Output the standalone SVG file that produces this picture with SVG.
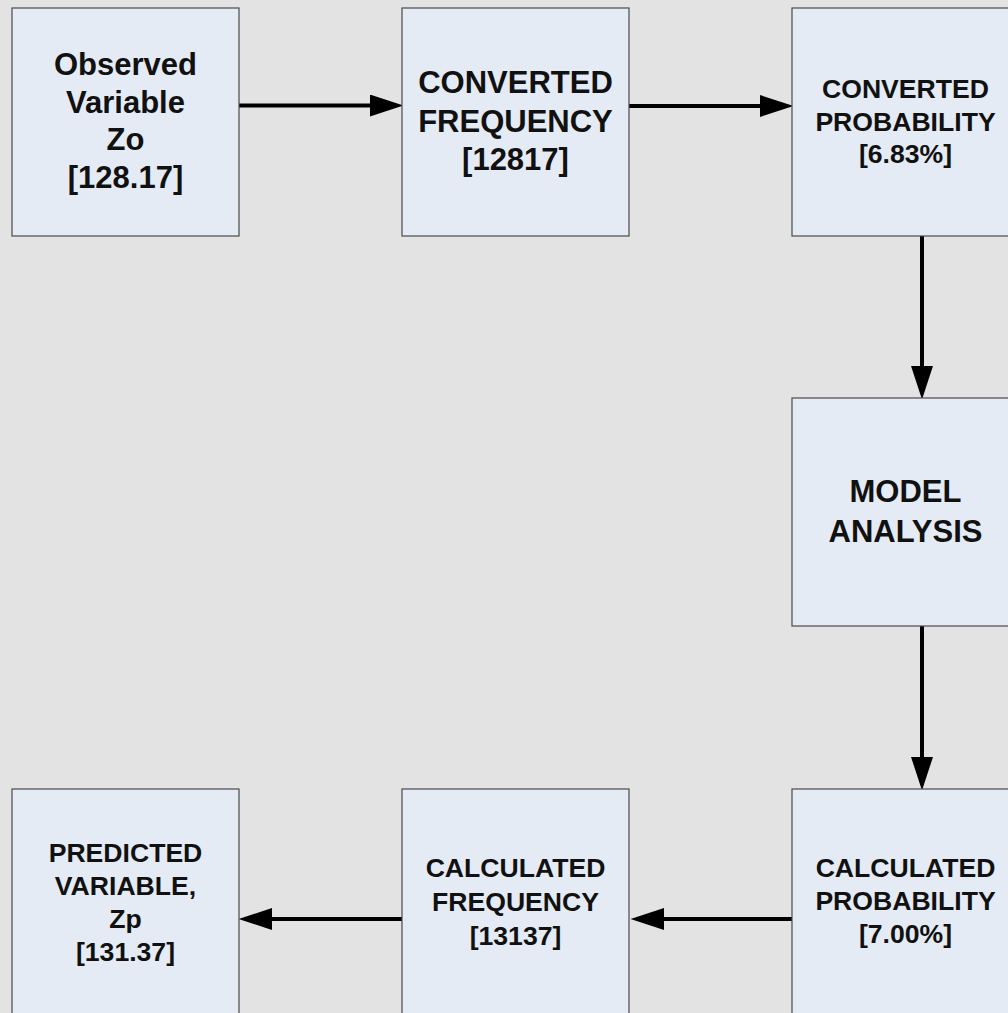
<svg xmlns="http://www.w3.org/2000/svg" width="1008" height="1013" viewBox="0 0 1008 1013">
  <style>
    .box { fill: #e5ebf5; stroke: #4a4a4a; stroke-width: 1.2; }
    .t { font-family: "Liberation Sans", Arial, sans-serif; font-weight: bold; fill: #111; text-anchor: middle; }
    .big { font-size: 31px; }
    .sm { font-size: 26.6px; }
    .conn { stroke: #000; stroke-width: 4; fill: none; marker-end: url(#ah); }
  </style>
  <defs>
    <marker id="ah" markerUnits="userSpaceOnUse" markerWidth="34" markerHeight="22" viewBox="0 0 32 21" refX="2" refY="10.5" orient="auto">
      <path d="M0,0 L32,10.5 L0,21 z" fill="#000"/>
    </marker>
  </defs>
  <rect x="0" y="0" width="1008" height="1013" fill="#e3e3e3"/>

  <g id="connectors">
    <path class="conn" d="M237,105.5 L372,105.5"/>
    <path class="conn" d="M628,106 L762,106"/>
    <path class="conn" d="M922,234 L922,368"/>
    <path class="conn" d="M922,624 L922,759"/>
    <path class="conn" d="M794,919 L662,919"/>
    <path class="conn" d="M403,919 L270,919"/>
  </g>

  <g id="observed-variable">
    <rect class="box" x="12" y="8" width="227" height="228"/>
    <text class="t big" x="125.5" y="75">Observed</text>
    <text class="t big" x="125.5" y="112.5">Variable</text>
    <text class="t big" x="125.5" y="150">Zo</text>
    <text class="t big" x="125.5" y="188">[128.17]</text>
  </g>

  <g id="converted-frequency">
    <rect class="box" x="402" y="8" width="227" height="228"/>
    <text class="t big" x="515.5" y="93">CONVERTED</text>
    <text class="t big" x="515.5" y="132">FREQUENCY</text>
    <text class="t big" x="515.5" y="170">[12817]</text>
  </g>

  <g id="converted-probability">
    <rect class="box" x="792" y="8" width="227" height="228"/>
    <text class="t sm" x="905.5" y="98">CONVERTED</text>
    <text class="t sm" x="905.5" y="130.5">PROBABILITY</text>
    <text class="t sm" x="905.5" y="163">[6.83%]</text>
  </g>

  <g id="model-analysis">
    <rect class="box" x="792" y="398" width="227" height="228"/>
    <text class="t big" x="905.5" y="502">MODEL</text>
    <text class="t big" x="905.5" y="542">ANALYSIS</text>
  </g>

  <g id="calculated-probability">
    <rect class="box" x="792" y="789" width="227" height="228"/>
    <text class="t sm" x="905.5" y="877">CALCULATED</text>
    <text class="t sm" x="905.5" y="910">PROBABILITY</text>
    <text class="t sm" x="905.5" y="943">[7.00%]</text>
  </g>

  <g id="calculated-frequency">
    <rect class="box" x="402" y="789" width="227" height="228"/>
    <text class="t sm" x="515.5" y="877">CALCULATED</text>
    <text class="t sm" x="515.5" y="911">FREQUENCY</text>
    <text class="t sm" x="515.5" y="945">[13137]</text>
  </g>

  <g id="predicted-variable">
    <rect class="box" x="12" y="789" width="227" height="228"/>
    <text class="t sm" x="125.5" y="862">PREDICTED</text>
    <text class="t sm" x="125.5" y="895">VARIABLE,</text>
    <text class="t sm" x="125.5" y="928">Zp</text>
    <text class="t sm" x="125.5" y="961">[131.37]</text>
  </g>
</svg>
